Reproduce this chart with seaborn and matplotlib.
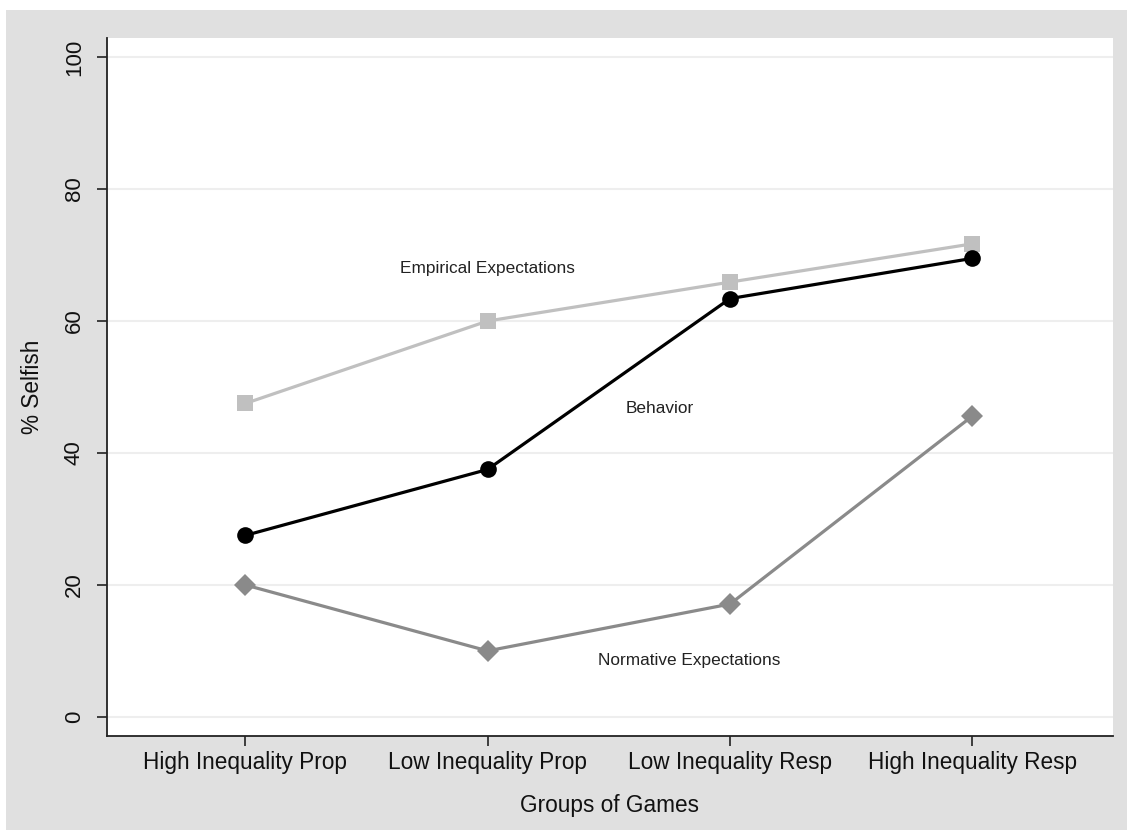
import matplotlib
matplotlib.use("Agg")
import matplotlib.pyplot as plt
import seaborn as sns
import pandas as pd
from matplotlib.patches import Rectangle

categories = ["High Inequality Prop", "Low Inequality Prop", "Low Inequality Resp", "High Inequality Resp"]
behavior = [27.5, 37.5, 63.4, 69.5]
empirical = [47.5, 60.0, 65.9, 71.7]
normative = [20.0, 10.0, 17.1, 45.6]
yticks = [0, 20, 40, 60, 80, 100]

sns.set_theme(style="white")
plt.rcParams['font.family'] = ['Liberation Sans', 'DejaVu Sans']
plt.rcParams['text.color'] = "#111111"

fig = plt.figure(figsize=(11.27, 8.30), dpi=100)
fig.patch.set_facecolor("white")
fig.add_artist(Rectangle((6/1127, 0), 1 - 6/1127, 1 - 10/830, transform=fig.transFigure,
                         facecolor="#e0e0e0", edgecolor="none", zorder=-10))
ax = fig.add_axes([107/1127, 94/830, (1113-107)/1127, (736-38)/830])
ax.set_facecolor("white")

x = list(range(len(categories)))
series = [
    ("Empirical", empirical, "#c0c0c0", "s", 12),
    ("Normative", normative, "#8a8a8a", "D", 11),
    ("Behavior", behavior, "#000000", "o", 12),
]
for name, vals, col, mk, ms in series:
    df = pd.DataFrame({"x": x, "y": vals})
    sns.lineplot(data=df, x="x", y="y", ax=ax, color=col, linewidth=2.3,
                 marker=mk, markersize=ms, markeredgewidth=0, zorder=3)

ax.text(1.0, 67.9, "Empirical Expectations", ha="center", va="center", fontsize=12.4, color="#222222")
ax.text(1.71, 46.7, "Behavior", ha="center", va="center", fontsize=12.4, color="#222222")
ax.text(1.83, 8.6, "Normative Expectations", ha="center", va="center", fontsize=12.4, color="#222222")

ax.set_xlim(-0.57, 3.58)
ax.set_ylim(-2.9, 102.9)
ax.set_yticks(yticks)
ax.set_yticklabels([str(t) for t in yticks], rotation=90, va="center", fontsize=16, color="#111111")
ax.set_xticks(x)
ax.set_xticklabels(categories, fontsize=16.3, color="#111111")
for t in yticks:
    ax.axhline(t, color="#eeeeee", linewidth=1.5, zorder=0)
ax.tick_params(axis="both", length=7, width=1.2, color="#222222", direction="out", bottom=True, left=True, pad=7)
ax.tick_params(axis="x", pad=4)
ax.tick_params(axis="y", pad=9)
ax.set_xlabel("Groups of Games", fontsize=16.3, labelpad=14, color="#111111")
ax.set_ylabel("% Selfish", fontsize=16.3, labelpad=14, color="#111111")
for s in ["top", "right"]:
    ax.spines[s].set_visible(False)
for s in ["left", "bottom"]:
    ax.spines[s].set_color("#222222")
    ax.spines[s].set_linewidth(1.3)

fig.savefig("out.png", dpi=100, facecolor=fig.get_facecolor())
